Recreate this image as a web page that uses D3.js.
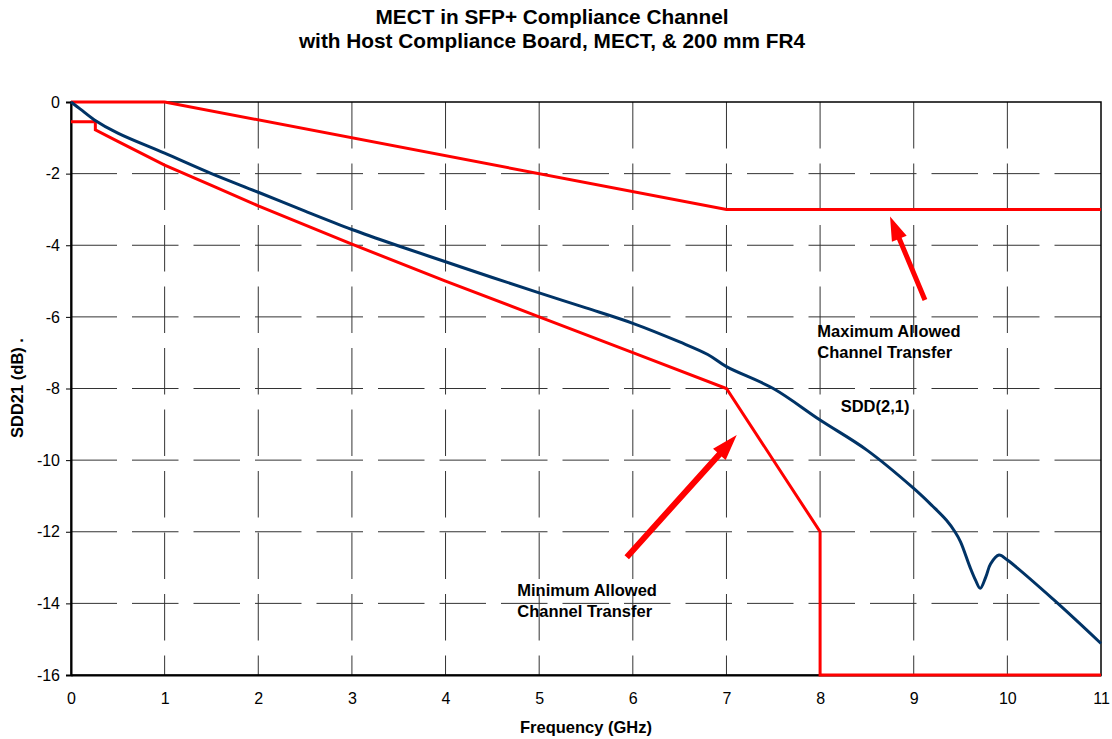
<!DOCTYPE html>
<html>
<head>
<meta charset="utf-8">
<script src="https://cdn.jsdelivr.net/npm/d3@7"></script>
<style>
  body { margin: 0; background: #fff; }
  svg { font-family: Arial, "Liberation Sans", sans-serif; }
  .grid line { stroke: #333; stroke-width: 1; stroke-dasharray: 46.5,15; }
  .tick-label { font-size: 16px; fill: #000; }
  .bold { font-weight: bold; fill: #000; }
</style>
</head>
<body>
<svg id="chart" width="1112" height="739"></svg>
<script>
  // measured SDD(2,1) of the channel, GHz / dB
  const sddFreq = [0, 0.1, 0.25, 0.5, 1, 1.5, 2, 2.5, 3, 3.5, 4, 4.5, 5, 5.5, 6, 6.5, 6.8, 7, 7.5, 8, 8.5, 9, 9.2, 9.35, 9.44, 9.5, 9.6, 9.66, 9.71, 9.77, 9.82, 9.91, 10, 10.5, 11];
  const sddDb   = [0, -0.2, -0.5, -0.87, -1.43, -2.0, -2.52, -3.05, -3.56, -4.02, -4.46, -4.9, -5.33, -5.75, -6.18, -6.7, -7.05, -7.39, -8.0, -8.88, -9.72, -10.79, -11.28, -11.68, -12.0, -12.28, -12.98, -13.35, -13.58, -13.26, -12.9, -12.65, -12.79, -13.91, -15.12];

  // limit lines
  const maxFreq = [0, 1, 7, 11];
  const maxDb   = [0, 0, -3, -3];
  const minFreq = [0, 0.26, 0.26, 0.5, 1, 1.5, 2, 3, 4, 5, 6, 7, 8, 8, 11];
  const minDb   = [-0.55, -0.55, -0.78, -1.1, -1.76, -2.33, -2.9, -3.97, -5.0, -6.0, -7.0, -8.0, -12, -16, -16];

  const xTicks = [0, 1, 2, 3, 4, 5, 6, 7, 8, 9, 10, 11];
  const yTicks = [0, -2, -4, -6, -8, -10, -12, -14, -16];

  const svg = d3.select("#chart");
  const width = +svg.attr("width");
  const height = +svg.attr("height");
  const margin = { top: 102, right: 11, bottom: 64, left: 71 };
  const w = width - margin.left - margin.right;
  const h = height - margin.top - margin.bottom;

  const x = d3.scaleLinear().domain([0, 11]).range([0, w]);
  const y = d3.scaleLinear().domain([-16, 0]).range([h, 0]);

  // title
  svg.append("text").attr("class", "bold").attr("x", 552).attr("y", 24)
    .attr("text-anchor", "middle").style("font-size", "20.8px")
    .text("MECT in SFP+ Compliance Channel");
  svg.append("text").attr("class", "bold").attr("x", 552).attr("y", 48)
    .attr("text-anchor", "middle").style("font-size", "20.8px")
    .text("with Host Compliance Board, MECT, & 200 mm FR4");

  const g = svg.append("g")
    .attr("transform", `translate(${margin.left},${margin.top})`);

  // dashed grid
  const grid = g.append("g").attr("class", "grid");
  grid.selectAll(".vg").data(xTicks.slice(1, -1)).enter().append("line")
    .attr("x1", d => x(d)).attr("x2", d => x(d))
    .attr("y1", 0).attr("y2", h);
  grid.selectAll(".hg").data(yTicks.slice(1, -1)).enter().append("line")
    .attr("x1", w).attr("x2", 0)
    .attr("y1", d => y(d)).attr("y2", d => y(d));

  // frame
  g.append("rect").attr("width", w).attr("height", h)
    .attr("fill", "none").attr("stroke", "#000").attr("stroke-width", 1.5);

  // y axis
  const yAxis = g.append("g")
    .call(d3.axisLeft(y).tickValues(yTicks).tickSize(5).tickPadding(6).tickFormat(d => String(d)));
  yAxis.select(".domain").attr("stroke-width", 2);
  yAxis.selectAll("text").attr("class", "tick-label").attr("font-size", null).attr("font-family", null);

  // x axis
  const xAxis = g.append("g")
    .attr("transform", `translate(0,${h})`)
    .call(d3.axisBottom(x).tickValues(xTicks).tickSize(0).tickPadding(18));
  xAxis.select(".domain").attr("stroke-width", 2);
  xAxis.selectAll("text").attr("class", "tick-label").attr("font-size", null).attr("font-family", null);

  // axis titles
  svg.append("text").attr("class", "bold").style("font-size", "16.5px")
    .attr("x", margin.left + w / 2).attr("y", 733).attr("text-anchor", "middle")
    .text("Frequency (GHz)");
  svg.append("text").attr("class", "bold").style("font-size", "16.5px")
    .attr("transform", "translate(23,388) rotate(-90)").attr("text-anchor", "middle")
    .text("SDD21 (dB) .");

  const line = d3.line().x(d => x(d[0])).y(d => y(d[1]));

  g.append("path")
    .datum(maxFreq.map((f, i) => [f, maxDb[i]]))
    .attr("d", line).attr("fill", "none")
    .attr("stroke", "#ff0000").attr("stroke-width", 3);

  g.append("path")
    .datum(minFreq.map((f, i) => [f, minDb[i]]))
    .attr("d", line).attr("fill", "none")
    .attr("stroke", "#ff0000").attr("stroke-width", 3);

  g.append("path")
    .datum(sddFreq.map((f, i) => [f, sddDb[i]]))
    .attr("d", d3.line().x(d => x(d[0])).y(d => y(d[1])).curve(d3.curveCatmullRom.alpha(0.5)))
    .attr("fill", "none")
    .attr("stroke", "#003366").attr("stroke-width", 3)
    .attr("stroke-linejoin", "round");

  // annotation arrows (tail -> tip, in GHz/dB)
  const arrows = [
    { from: [9.12, -5.53], to: [8.747, -3.2], shaft: 5, headLen: 24, headW: 16 },
    { from: [5.935, -12.71], to: [7.11, -9.3], shaft: 6, headLen: 26, headW: 17 }
  ];
  arrows.forEach(a => {
    const x0 = x(a.from[0]), y0 = y(a.from[1]);
    const x1 = x(a.to[0]), y1 = y(a.to[1]);
    const len = Math.hypot(x1 - x0, y1 - y0);
    const ux = (x1 - x0) / len, uy = (y1 - y0) / len;
    const px = -uy, py = ux;
    const bx = x1 - ux * a.headLen, by = y1 - uy * a.headLen;
    const s = a.shaft / 2, hw = a.headW / 2;
    const pts = [
      [x0 + px * s, y0 + py * s],
      [bx + px * s, by + py * s],
      [bx + px * hw, by + py * hw],
      [x1, y1],
      [bx - px * hw, by - py * hw],
      [bx - px * s, by - py * s],
      [x0 - px * s, y0 - py * s]
    ];
    g.append("polygon").attr("points", pts.map(p => p.join(",")).join(" "))
      .attr("fill", "#ff0000");
  });

  // annotation labels
  const labels = [
    { f: 7.97, db: -6.56, lines: ["Maximum Allowed", "Channel Transfer"] },
    { f: 8.22, db: -8.65, lines: ["SDD(2,1)"] },
    { f: 4.766, db: -13.79, lines: ["Minimum Allowed", "Channel Transfer"] }
  ];
  labels.forEach(l => {
    const t = g.append("text").attr("class", "bold").style("font-size", "16.5px")
      .attr("x", x(l.f)).attr("y", y(l.db));
    l.lines.forEach((s, i) => {
      t.append("tspan").attr("x", x(l.f)).attr("dy", i === 0 ? 0 : 21.5).text(s);
    });
  });
</script>
</body>
</html>
